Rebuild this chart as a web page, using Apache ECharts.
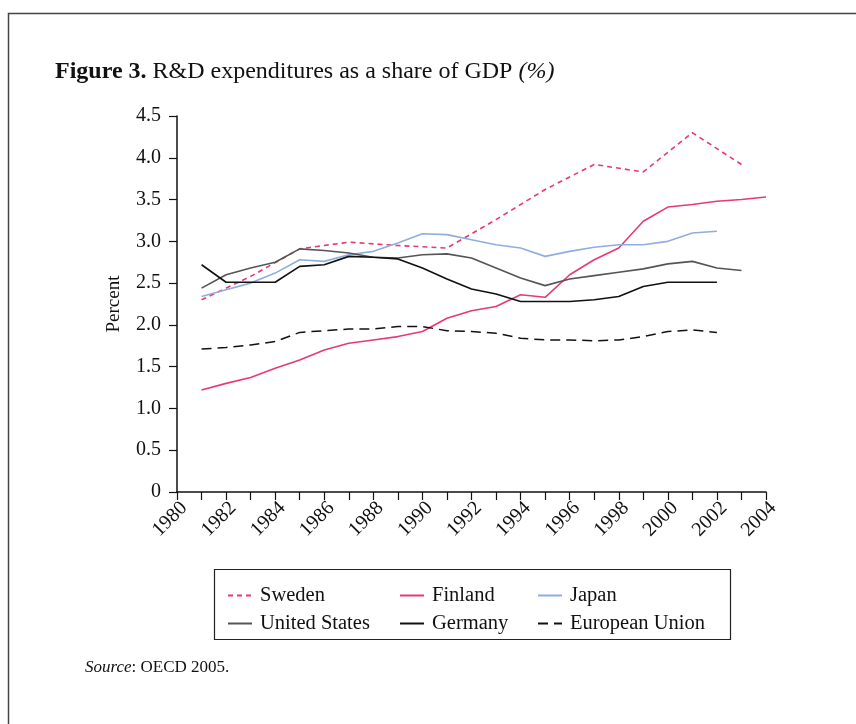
<!DOCTYPE html>
<html>
<head>
<meta charset="utf-8">
<title>R&amp;D expenditures as a share of GDP</title>
<script src="https://cdn.jsdelivr.net/npm/echarts@6/dist/echarts.min.js"></script>
<style>
	html, body { margin: 0; padding: 0; background: #fff; }
	#chartDiv { width: 856px; height: 724px; }
</style>
</head>
<body>
<div id="chartDiv"></div>
<script>
	// years and values
	var years = [1981, 1982, 1983, 1984, 1985, 1986, 1987, 1988, 1989, 1990, 1991, 1992,
		1993, 1994, 1995, 1996, 1997, 1998, 1999, 2000, 2001, 2002, 2003, 2004];
	var swedenYears = [1981, 1983, 1985, 1987, 1989, 1991, 1993, 1995, 1997, 1999, 2001, 2003];
	var sweden = [2.30, 2.58, 2.91, 2.99, 2.95, 2.92, 3.26, 3.62, 3.92, 3.83, 4.30, 3.92];
	var finland = [1.22, 1.30, 1.37, 1.48, 1.58, 1.70, 1.78, 1.82, 1.86, 1.92, 2.08, 2.17,
		2.22, 2.36, 2.33, 2.60, 2.78, 2.92, 3.24, 3.41, 3.44, 3.48, 3.50, 3.53];
	var japan = [2.34, 2.42, 2.50, 2.62, 2.78, 2.76, 2.84, 2.88, 2.98, 3.09, 3.08, 3.02,
		2.96, 2.92, 2.82, 2.88, 2.93, 2.96, 2.96, 3.00, 3.10, 3.12];
	var unitedStates = [2.44, 2.60, 2.68, 2.75, 2.91, 2.89, 2.86, 2.81, 2.80, 2.84, 2.85, 2.80,
		2.68, 2.56, 2.47, 2.55, 2.59, 2.63, 2.67, 2.73, 2.76, 2.68, 2.65];
	var germany = [2.72, 2.51, 2.51, 2.51, 2.70, 2.72, 2.82, 2.81, 2.79, 2.68, 2.55, 2.43,
		2.37, 2.28, 2.28, 2.28, 2.30, 2.34, 2.46, 2.51, 2.51, 2.51];
	var europeanUnion = [1.71, 1.73, 1.76, 1.80, 1.91, 1.93, 1.95, 1.95, 1.98, 1.98, 1.93, 1.92,
		1.90, 1.84, 1.82, 1.82, 1.81, 1.82, 1.86, 1.92, 1.94, 1.91];
	var yTicks = ['0', '0.5', '1.0', '1.5', '2.0', '2.5', '3.0', '3.5', '4.0', '4.5'];

	var serif = '"Liberation Serif", "DejaVu Serif", serif';
	var pink = '#e63a72';

	function pairs(xs, vs) {
		var out = [];
		for (var i = 0; i < vs.length; i++) {
			out.push([xs[i], vs[i]]);
		}
		return out;
	}

	function lineSeries(name, xs, vs, color, type, width) {
		return {
			name: name,
			type: 'line',
			data: pairs(xs, vs),
			symbol: 'none',
			silent: true,
			animation: false,
			lineStyle: { color: color, width: width, type: type },
			itemStyle: { color: color }
		};
	}

	// one legend per column so the columns line up like the print
	function legendCol(left, names) {
		return {
			data: names,
			orient: 'vertical',
			left: left,
			top: 585,
			padding: 0,
			itemWidth: 24,
			itemHeight: 12,
			itemGap: 7,
			selectedMode: false,
			itemStyle: { opacity: 0 },
			textStyle: { fontFamily: serif, fontSize: 20.5, color: '#111', padding: [0, 0, 0, 3] }
		};
	}

	var chart = echarts.init(document.getElementById('chartDiv'), null, { renderer: 'canvas' });
	var option = {
		backgroundColor: '#fff',
		animation: false,
		title: {
			text: '{b|Figure 3.} R&D expenditures as a share of GDP {i|(%)}',
			left: 50,
			top: 55,
			textStyle: {
				fontFamily: serif,
				fontSize: 24,
				fontWeight: 'normal',
				color: '#111',
				rich: {
					b: { fontFamily: serif, fontSize: 24, fontWeight: 'bold', color: '#111' },
					i: { fontFamily: serif, fontSize: 24, fontStyle: 'italic', color: '#111' }
				}
			}
		},
		legend: [
			legendCol(227, ['Sweden', 'United States']),
			legendCol(399, ['Finland', 'Germany']),
			legendCol(537, ['Japan', 'European Union'])
		],
		grid: { left: 177, right: 90, top: 116, bottom: 232, containLabel: false },
		xAxis: {
			type: 'value',
			min: 1980,
			max: 2004,
			interval: 1,
			axisLine: { onZero: false, lineStyle: { color: '#111', width: 1.5 } },
			axisTick: { length: 8, lineStyle: { color: '#111', width: 1.2 } },
			splitLine: { show: false },
			axisLabel: {
				rotate: 45,
				margin: 6,
				verticalAlign: 'top',
				fontFamily: serif,
				fontSize: 20,
				color: '#111',
				formatter: function (v) { return v % 2 === 0 ? String(v) : ''; }
			}
		},
		yAxis: {
			type: 'value',
			min: 0,
			max: 4.5,
			interval: 0.5,
			name: 'Percent',
			nameLocation: 'middle',
			nameGap: 53,
			nameRotate: 90,
			nameTextStyle: { fontFamily: serif, fontSize: 19, color: '#111' },
			axisLine: { show: true, lineStyle: { color: '#111', width: 1.5 } },
			axisTick: { show: true, length: 8, lineStyle: { color: '#111', width: 1.2 } },
			splitLine: { show: false },
			axisLabel: {
				margin: 16,
				fontFamily: serif,
				fontSize: 20,
				color: '#111',
				formatter: function (v) { return yTicks[Math.round(v * 2)]; }
			}
		},
		graphic: [
			{ type: 'rect', shape: { x: 8.5, y: 13.5, width: 900, height: 800 },
				style: { fill: 'none', stroke: '#444', lineWidth: 1.5 }, silent: true },
			{ type: 'rect', shape: { x: 214.5, y: 569.5, width: 516, height: 70 },
				style: { fill: 'none', stroke: '#222', lineWidth: 1.2 }, silent: true },
			{ type: 'text', left: 85, top: 659,
				style: { text: '{i|Source}: OECD 2005.', fontFamily: serif, fontSize: 17, fill: '#111',
					rich: { i: { fontFamily: serif, fontSize: 17, fontStyle: 'italic', fill: '#111' } } } }
		],
		series: [
			lineSeries('Sweden', swedenYears, sweden, pink, [5, 4], 1.6),
			lineSeries('Finland', years, finland, pink, 'solid', 1.6),
			lineSeries('Japan', years, japan, '#8eaede', 'solid', 1.6),
			lineSeries('United States', years, unitedStates, '#555', 'solid', 1.6),
			lineSeries('Germany', years, germany, '#111', 'solid', 1.6),
			lineSeries('European Union', years, europeanUnion, '#111', [10, 6], 1.5)
		]
	};
	chart.setOption(option);
</script>
</body>
</html>
